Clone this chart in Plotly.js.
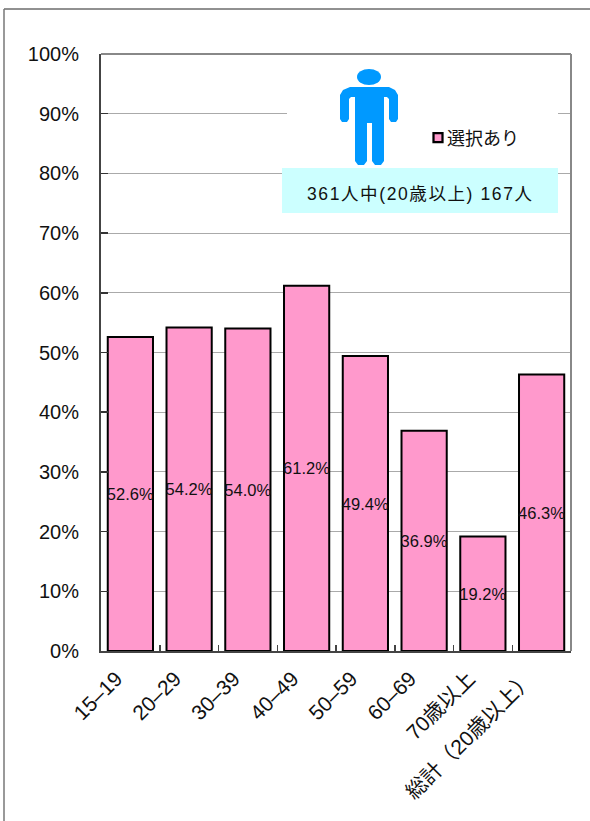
<!DOCTYPE html>
<html><head><meta charset="utf-8">
<script src="https://cdn.plot.ly/plotly-3.0.1.min.js"></script>
<style>html,body{margin:0;padding:0;background:#fff}
.annotation-text{letter-spacing:1.6px}
.legend .legendpoints path{transform:translate(31px,0) scale(.75);stroke-width:3px !important}
</style></head>
<body><div id="chart" style="width:590px;height:821px"></div>
<script>
const categories = ["15–19","20–29","30–39","40–49","50–59","60–69","70歳以上","総計（20歳以上）"];
const selected = [0.526,0.542,0.540,0.612,0.494,0.369,0.192,0.463];
const labels = ["52.6%","54.2%","54.0%","61.2%","49.4%","36.9%","19.2%","46.3%"];
const seriesName = "選択あり";
const boxText = "361人中(20歳以上) 167人";
const FONT = '"Liberation Sans","Noto Sans CJK JP",sans-serif';
const L=101,T=54,W=470,H=597;
const px=x=>(x-L)/W, py=y=>(T+H-y)/H;
const P=(pts)=>'M'+pts.map(p=>px(p[0]).toFixed(5)+','+py(p[1]).toFixed(5)).join('L')+'Z';
const rect=(x0,y0,x1,y1,fill)=>({type:'rect',xref:'paper',yref:'paper',x0:px(x0),x1:px(x1),y0:py(y0),y1:py(y1),fillcolor:fill,line:{width:0},layer:'above'});
const line=(x0,y0,x1,y1,c,w)=>({type:'line',xref:'paper',yref:'paper',x0:px(x0),x1:px(x1),y0:py(y0),y1:py(y1),line:{color:c,width:w},layer:'above'});
const blue='#0099FF';
const person=[[343,90],[350,87],[389,87],[395,90],[398,95],[398,119],[396,122],[391,122],[389,119],[389,99],[387,97],[384,97],[384,161],[381,165],[375,165],[372,161],[372,123],[367,123],[367,161],[364,165],[358,165],[355,161],[355,97],[351,97],[349,99],[349,119],[347,122],[342,122],[340,119],[340,95]];
const shapes=[
 line(4,9,590,9,'#222',1), line(4,9,4,821,'#777',1.5),
 line(101,54,571,54,'#888',2), line(571,54,571,651,'#888',2),
 rect(287,60,558,168,'#FFFFFF'),
 rect(282,168,558,213,'#CCFFFF'),
 {type:'circle',xref:'paper',yref:'paper',x0:px(357),x1:px(381),y0:py(69),y1:py(85),fillcolor:blue,line:{width:0},layer:'above'},
 {type:'path',xref:'paper',yref:'paper',path:P(person),fillcolor:blue,line:{width:0},layer:'above'}
];
Plotly.newPlot('chart',[{
 type:'bar',name:seriesName,x:categories,y:selected,text:labels,
 textposition:'inside',insidetextanchor:'middle',textangle:0,constraintext:'none',
 textfont:{family:FONT,size:16.5,color:'#111'},
 marker:{color:'#FF99CC',line:{color:'#000',width:2}},width:0.77,showlegend:true,hoverinfo:'skip'
}],{
 width:590,height:821,margin:{l:L,r:590-L-W,t:T,b:821-T-H,pad:0},
 paper_bgcolor:'#fff',plot_bgcolor:'#fff',
 font:{family:FONT,color:'#111'},
 xaxis:{type:'category',tickangle:-45,ticks:'inside',ticklen:6,tickcolor:'#444',tickwidth:1.5,tickson:'boundaries',
  ticklabelshift:-14,ticklabelstandoff:5,
  showline:true,linecolor:'#444',linewidth:2,showgrid:false,tickfont:{family:FONT,size:21,color:'#111'},automargin:false},
 yaxis:{range:[0,1],tickmode:'array',tickvals:[0,.1,.2,.3,.4,.5,.6,.7,.8,.9,1],ticktext:["0%","10%","20%","30%","40%","50%","60%","70%","80%","90%","100%"],
  ticks:'inside',ticklen:7,tickcolor:'#333',tickwidth:1.5,showline:true,linecolor:'#444',linewidth:2,ticklabelstandoff:16,
  showgrid:true,gridcolor:'#aaa',gridwidth:1,zeroline:false,tickfont:{family:FONT,size:20,color:'#111'},automargin:false},
 legend:{x:px(407),y:py(138),xanchor:'left',yanchor:'middle',bgcolor:'rgba(0,0,0,0)',font:{family:'"Noto Sans CJK JP",sans-serif',size:18,color:'#111'}},
 shapes:shapes,
 annotations:[{xref:'paper',yref:'paper',x:px(420),y:py(194),text:boxText,showarrow:false,xanchor:'center',yanchor:'middle',font:{family:FONT,size:17.5,color:'#111'}}],
 bargap:0.23
},{displayModeBar:false,staticPlot:true});
</script></body></html>
